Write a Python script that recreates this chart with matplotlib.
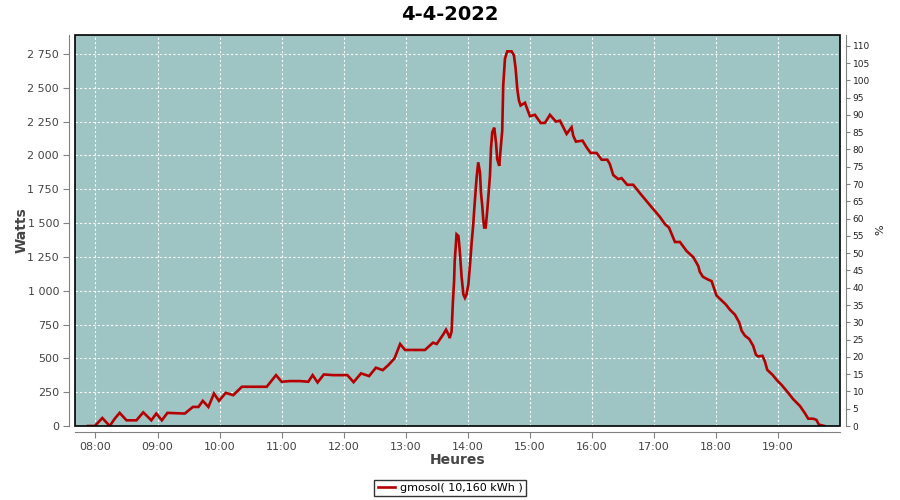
"""
Daily PV production curve (Watts over the day) with a secondary % axis.
"""

import matplotlib
matplotlib.use("Agg")
import matplotlib.pyplot as plt
from matplotlib.ticker import FuncFormatter, MultipleLocator
from matplotlib.patches import Rectangle
from matplotlib.lines import Line2D

# -----------------------------------------------------------
# Data
# -----------------------------------------------------------
title = "4-4-2022"
series_label = "gmosol( 10,160 kWh )"

hours = [
    7.88, 7.99, 8.11, 8.23, 8.31, 8.39, 8.50, 8.66, 8.77, 8.90,
    8.98, 9.07, 9.16, 9.44, 9.57, 9.66, 9.73, 9.82, 9.91, 9.99,
    10.10, 10.22, 10.36, 10.76, 10.91, 11.00, 11.13, 11.30, 11.43, 11.50,
    11.58, 11.68, 11.83, 12.06, 12.16, 12.28, 12.41, 12.52, 12.63, 12.72,
    12.82, 12.91, 12.99, 13.31, 13.44, 13.50, 13.61, 13.65, 13.69, 13.71,
    13.74, 13.76, 13.78, 13.79, 13.81, 13.82, 13.85, 13.87, 13.90, 13.93,
    13.955, 13.98, 14.01, 14.035, 14.063, 14.089, 14.105, 14.127, 14.143, 14.169,
    14.197, 14.213, 14.234, 14.25, 14.266, 14.289, 14.314, 14.342, 14.358, 14.374,
    14.395, 14.427, 14.455, 14.475, 14.508, 14.53, 14.556, 14.572, 14.60, 14.637,
    14.707, 14.745, 14.772, 14.798, 14.825, 14.852, 14.922, 15.002, 15.083, 15.175,
    15.244, 15.325, 15.421, 15.486, 15.594, 15.674, 15.70, 15.744, 15.85, 15.915,
    15.98, 16.077, 16.158, 16.25, 16.29, 16.345, 16.425, 16.48, 16.57, 16.667,
    16.775, 16.937, 17.098, 17.18, 17.243, 17.34, 17.42, 17.528, 17.635, 17.716,
    17.74, 17.79, 17.87, 17.93, 17.967, 18.01, 18.076, 18.16, 18.225, 18.306,
    18.375, 18.414, 18.467, 18.537, 18.60, 18.645, 18.68, 18.75, 18.79, 18.827,
    18.913, 18.988, 19.058, 19.149, 19.246, 19.354, 19.435, 19.488, 19.568, 19.62,
    19.66, 19.75,
]
watts = [
    0, 0, 59, 0, 54, 97, 42, 42, 101, 42,
    92, 42, 97, 92, 141, 141, 186, 141, 240, 186,
    245, 228, 290, 290, 376, 327, 332, 332, 327, 376,
    322, 381, 376, 376, 324, 389, 369, 431, 413, 450,
    500, 606, 562, 562, 616, 606, 680, 712, 675, 650,
    700, 910, 1070, 1219, 1355, 1417, 1404, 1306, 1108, 972,
    947, 972, 1046, 1182, 1355, 1491, 1602, 1738, 1837, 1949,
    1875, 1726, 1627, 1528, 1467, 1467, 1590, 1751, 1849, 2047,
    2171, 2205, 2097, 1973, 1923, 2047, 2183, 2517, 2715, 2769,
    2769, 2739, 2641, 2493, 2406, 2369, 2389, 2290, 2300, 2240,
    2240, 2300, 2250, 2257, 2159, 2208, 2146, 2102, 2109, 2060,
    2018, 2018, 1968, 1968, 1936, 1855, 1825, 1832, 1783, 1783,
    1721, 1632, 1545, 1491, 1467, 1360, 1360, 1293, 1248, 1182,
    1140, 1103, 1083, 1071, 1021, 964, 935, 898, 860, 823,
    766, 705, 668, 643, 593, 527, 514, 519, 477, 415,
    378, 336, 304, 254, 198, 148, 94, 54, 54, 45,
    10, 0,
]

hour_ticks = list(range(8, 20))
watt_ticks = list(range(0, 2751, 250))
pct_ticks = list(range(0, 111, 5))

# -----------------------------------------------------------
# Figure layout (pixel based, 900 x 500)
# -----------------------------------------------------------
W, H = 900, 500
fig = plt.figure(figsize=(9, 5), dpi=100)
left, right, top, bottom = 75, 840, 35, 426
ax = fig.add_axes([left / W, 1 - bottom / H, (right - left) / W, (bottom - top) / H])

bg = "#9ec4c3"
axis_grey = "#808080"
label_grey = "#444444"

ax.set_facecolor(bg)
ax.plot(hours, watts, color="#b40000", linewidth=1.9, solid_joinstyle="miter")
ax.set_xlim(7.67, 20.0)
ax.set_ylim(0, 2890)

ax.set_xticks(hour_ticks)
ax.xaxis.set_major_formatter(FuncFormatter(lambda v, _: f"{int(round(v)):02d}:00"))
ax.set_yticks(watt_ticks)
ax.yaxis.set_major_formatter(FuncFormatter(lambda v, _: f"{int(v):,}".replace(",", " ")))
ax.grid(True, color="white", linestyle=(0, (2, 2)), linewidth=0.8)

for side in ("top", "right"):
    ax.spines[side].set_visible(False)
for side in ("left", "bottom"):
    ax.spines[side].set_position(("outward", 4))
    ax.spines[side].set_color(axis_grey)
ax.tick_params(colors=axis_grey, labelcolor=label_grey, labelsize=8, length=4, width=0.8)

# secondary % axis
ax2 = ax.twinx()
ax2.set_ylim(0, 113.1)
ax2.set_yticks(pct_ticks)
for side in ("top", "left", "bottom"):
    ax2.spines[side].set_visible(False)
ax2.spines["right"].set_position(("outward", 4))
ax2.spines["right"].set_color(axis_grey)
ax2.tick_params(colors=axis_grey, labelcolor="#222222", labelsize=6.5, length=3, width=0.8, pad=2)

# black plot border
ax2.add_patch(Rectangle((0, 0), 1, 1, transform=ax.transAxes, fill=False,
                        edgecolor="black", linewidth=1.2, clip_on=False, zorder=10))

# -----------------------------------------------------------
# Texts & legend
# -----------------------------------------------------------
fig.text(0.5, 1 - 14 / H, title, ha="center", va="center", fontsize=14, weight="bold")
fig.text((left + right) / 2 / W, 1 - 460 / H, "Heures", ha="center", va="center",
         fontsize=10, weight="bold", color=label_grey)
fig.text(22 / W, 1 - 230 / H, "Watts", ha="center", va="center", rotation=90,
         fontsize=10, weight="bold", color=label_grey)
fig.text(880 / W, 1 - 230 / H, "%", ha="center", va="center", rotation=90,
         fontsize=8, color="#222222")

handle = Line2D([], [], color="#b40000", linewidth=1.9)
fig.legend([handle], [series_label], loc="center", bbox_to_anchor=(450 / W, 1 - 488 / H),
           frameon=True, fancybox=False, edgecolor="black", fontsize=8,
           handlelength=1.6, handletextpad=0.4, borderpad=0.3, borderaxespad=0)
leg = fig.legends[0]
leg.get_frame().set_linewidth(1.0)

fig.savefig("out.png", dpi=100)
